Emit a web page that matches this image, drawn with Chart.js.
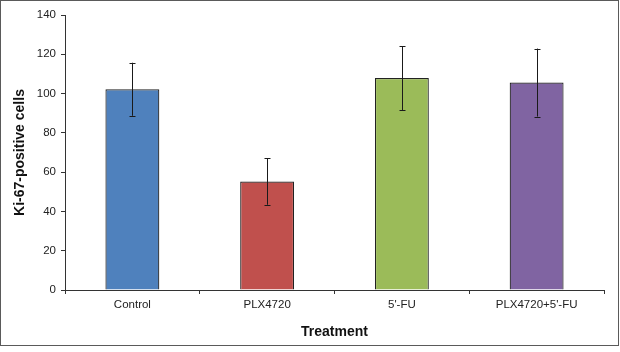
<!DOCTYPE html>
<html>
<head>
<meta charset="utf-8">
<script src="https://cdn.jsdelivr.net/npm/chart.js@4/dist/chart.umd.min.js"></script>
<style>
  html, body { margin: 0; padding: 0; background: #fff; }
  #wrap { width: 620px; height: 352px; position: relative; }
</style>
</head>
<body>
<div id="wrap"><canvas id="c" width="620" height="352"></canvas></div>
<script>
const categories = ["Control", "PLX4720", "5'-FU", "PLX4720+5'-FU"];
const means = [102.2, 55.2, 107.9, 105.6];
const errors = [13.5, 11.8, 16.3, 17.3];
const colors = ["#4F81BD", "#C0504D", "#9BBB59", "#8064A2"];
const yTicks = [0, 20, 40, 60, 80, 100, 120, 140];

const errorBarPlugin = {
  id: 'errorBars',
  afterDatasetsDraw(chart) {
    const ctx = chart.ctx;
    const meta = chart.getDatasetMeta(0);
    const ys = chart.scales.y;
    ctx.save();
    ctx.strokeStyle = '#1a1a1a';
    ctx.lineWidth = 1;
    meta.data.forEach((bar, i) => {
      const x = Math.round(bar.x) + 0.5;
      const yt = ys.getPixelForValue(means[i] + errors[i]);
      const yb = ys.getPixelForValue(means[i] - errors[i]);
      ctx.beginPath();
      ctx.moveTo(x, yt); ctx.lineTo(x, yb);
      ctx.moveTo(x - 3, Math.round(yt) + 0.5); ctx.lineTo(x + 3, Math.round(yt) + 0.5);
      ctx.moveTo(x - 3, Math.round(yb) + 0.5); ctx.lineTo(x + 3, Math.round(yb) + 0.5);
      ctx.stroke();
    });
    ctx.restore();
  },
  afterDraw(chart) {
    const ctx = chart.ctx;
    ctx.save();
    ctx.strokeStyle = '#5a5a5a';
    ctx.lineWidth = 1;
    ctx.strokeRect(0.5, 0.5, 618, 345);
    ctx.restore();
  }
};

new Chart(document.getElementById('c'), {
  type: 'bar',
  data: {
    labels: categories,
    datasets: [{
      data: means,
      backgroundColor: colors,
      borderColor: '#222222',
      borderWidth: 1.2,
      categoryPercentage: 1.0,
      barPercentage: 0.4
    }]
  },
  options: {
    responsive: false,
    animation: false,
    devicePixelRatio: 1,
    layout: { padding: { left: 0, right: 16, top: 15, bottom: 0 } },
    plugins: { legend: { display: false }, tooltip: { enabled: false } },
    scales: {
      x: {
        afterFit(scale) { scale.height = 62; },
        border: { display: true, color: '#333333', width: 1 },
        grid: { display: true, drawOnChartArea: false, drawTicks: true, tickLength: 4, color: '#333333', offset: true },
        ticks: { color: '#222222', font: { family: 'Liberation Sans, Arial, sans-serif', size: 11.5 }, padding: 4, maxRotation: 0 },
        title: {
          display: true, text: 'Treatment', color: '#111111',
          font: { family: 'Liberation Sans, Arial, sans-serif', size: 14, weight: 'bold' },
          padding: { top: 0, bottom: 11 }
        }
      },
      y: {
        min: 0, max: 140,
        afterFit(scale) { scale.width = 65; },
        afterBuildTicks(scale) { scale.ticks = yTicks.map(v => ({ value: v })); },
        border: { display: true, color: '#333333', width: 1 },
        grid: { display: true, drawOnChartArea: false, drawTicks: true, tickLength: 4, color: '#333333' },
        ticks: { color: '#222222', font: { family: 'Liberation Sans, Arial, sans-serif', size: 11.5 }, padding: 5 },
        title: {
          display: true, text: 'Ki-67-positive cells', color: '#111111',
          font: { family: 'Liberation Sans, Arial, sans-serif', size: 14, weight: 'bold' },
          padding: { top: 12, bottom: 0 }
        }
      }
    }
  },
  plugins: [errorBarPlugin]
});
</script>
</body>
</html>
